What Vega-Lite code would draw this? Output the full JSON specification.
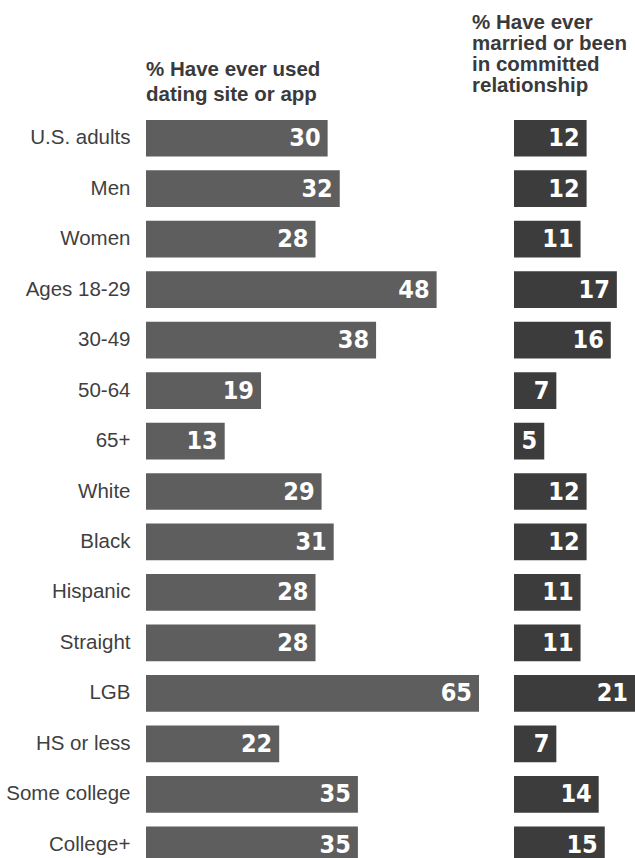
{
  "$schema": "https://vega.github.io/schema/vega-lite/v6.json",
  "autosize": {"type": "pad"},
  "padding": {"left": 5, "top": 12, "right": 0, "bottom": 0},
  "background": "white",
  "bounds": "flush",
  "data": {"values": [
    {"group": "U.S. adults", "dating": 30, "married": 12},
    {"group": "Men", "dating": 32, "married": 12},
    {"group": "Women", "dating": 28, "married": 11},
    {"group": "Ages 18-29", "dating": 48, "married": 17},
    {"group": "30-49", "dating": 38, "married": 16},
    {"group": "50-64", "dating": 19, "married": 7},
    {"group": "65+", "dating": 13, "married": 5},
    {"group": "White", "dating": 29, "married": 12},
    {"group": "Black", "dating": 31, "married": 12},
    {"group": "Hispanic", "dating": 28, "married": 11},
    {"group": "Straight", "dating": 28, "married": 11},
    {"group": "LGB", "dating": 65, "married": 21},
    {"group": "HS or less", "dating": 22, "married": 7},
    {"group": "Some college", "dating": 35, "married": 14},
    {"group": "College+", "dating": 35, "married": 15}
  ]},
  "spacing": 35,
  "resolve": {"scale": {"x": "independent"}},
  "hconcat": [
    {
      "width": 333,
      "height": 757,
      "title": {
        "text": ["% Have ever used", "dating site or app"],
        "anchor": "start",
        "frame": "group",
        "fontSize": 20.5,
        "lineHeight": 25,
        "font": "Liberation Sans",
        "fontWeight": "bold",
        "color": "#3a3a3a",
        "offset": 8
      },
      "encoding": {
        "y": {
          "field": "group", "type": "nominal", "sort": null,
          "scale": {"paddingInner": 0.273, "paddingOuter": 0.1365},
          "axis": {"title": null, "ticks": false, "domain": false, "labelPadding": 16,
                   "labelFontSize": 20.5, "labelFont": "Liberation Sans", "labelColor": "#3f3f3f"}
        },
        "x": {"field": "dating", "type": "quantitative",
              "scale": {"domain": [0, 55], "clamp": true, "nice": false}, "axis": null}
      },
      "layer": [
        {"mark": {"type": "bar", "color": "#5e5e5e"}},
        {"mark": {"type": "text", "align": "right", "baseline": "middle", "dx": -7,
                  "font": "DejaVu Sans Condensed", "fontWeight": "bold",
                  "fontSize": 25, "color": "white"},
         "encoding": {"text": {"field": "dating", "type": "quantitative"}}}
      ]
    },
    {
      "width": 121,
      "height": 757,
      "title": {
        "text": ["% Have ever", "married or been", "in committed", "relationship"],
        "anchor": "start",
        "frame": "group",
        "dx": -42,
        "fontSize": 20.5,
        "lineHeight": 21,
        "font": "Liberation Sans",
        "fontWeight": "bold",
        "color": "#3a3a3a",
        "offset": 17
      },
      "encoding": {
        "y": {"field": "group", "type": "nominal", "sort": null,
              "scale": {"paddingInner": 0.273, "paddingOuter": 0.1365}, "axis": null},
        "x": {"field": "married", "type": "quantitative",
              "scale": {"domain": [0, 20], "clamp": true, "nice": false}, "axis": null}
      },
      "layer": [
        {"mark": {"type": "bar", "color": "#3c3c3c"}},
        {"mark": {"type": "text", "align": "right", "baseline": "middle", "dx": -7,
                  "font": "DejaVu Sans Condensed", "fontWeight": "bold",
                  "fontSize": 25, "color": "white"},
         "encoding": {"text": {"field": "married", "type": "quantitative"}}}
      ]
    }
  ],
  "config": {"view": {"stroke": null}}
}
